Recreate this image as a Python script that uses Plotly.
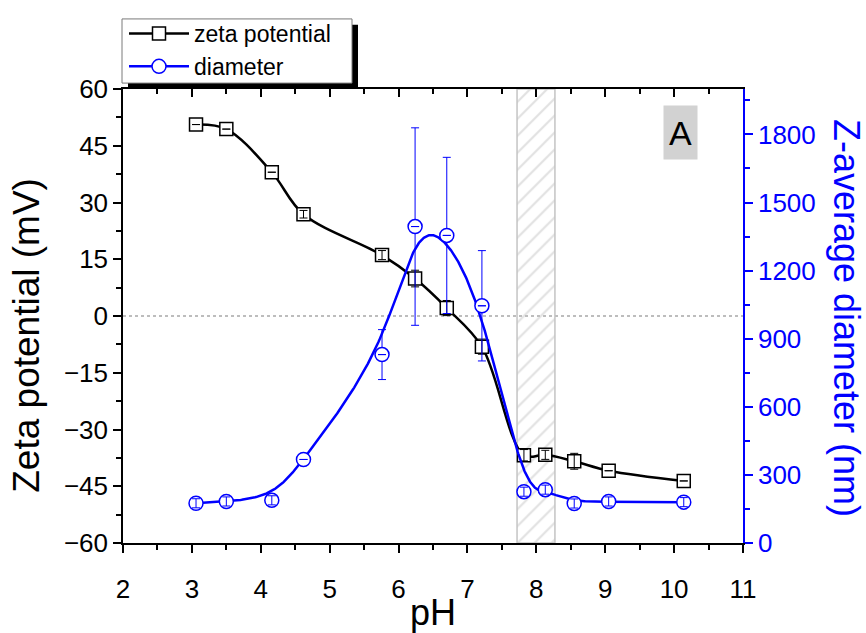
import numpy as np
import plotly.graph_objects as go

# ---------------- data ----------------
ph = [3.06, 3.50, 4.16, 4.62, 5.76, 6.24, 6.70, 7.21, 7.82, 8.13, 8.55, 9.05, 10.14]
zeta = [50.6, 49.4, 38.0, 26.9, 16.1, 9.9, 2.1, -8.1, -36.8, -36.7, -38.4, -40.9, -43.6]
zeta_err = [None, None, None, 1.0, 1.2, 2.2, 2.0, 2.0, 1.5, 1.2, 2.1, None, None]
diameter = [175, 183, 188, 368, 830, 1394, 1355, 1045, 226, 235, 174, 183, 180]
diameter_err = [20, 20, 20, None, 110, 435, 344, 243, 20, 20, 20, 20, 20]
shade_ph = [7.72, 8.27]
x_ticks = list(range(2, 12))
zeta_ticks = list(range(-60, 61, 15))
diam_ticks = list(range(0, 1801, 300))

# ---------------- layout helpers ----------------
W, H = 866, 633
L, R, T, B = 123, 743, 83, 543
FONT = "Arial, Liberation Sans, sans-serif"
BLUE = "#0000ff"


def px(xp):
    return (xp - L) / (R - L)


def py(yp):
    return (B - yp) / (B - T)


def bspline(xs, ys, degree=3, samples=600):
    """Clamped uniform B-spline using the data points as control points
    (the 'B-Spline' connect style of the original plot)."""
    c = np.column_stack([xs, ys]).astype(float)
    n = len(c)
    t = np.concatenate([[0.0] * degree, np.arange(n - degree + 1, dtype=float),
                        [float(n - degree)] * degree])
    out = []
    for u in np.linspace(0, n - degree, samples):
        k = int(np.searchsorted(t, u, side="right") - 1)
        k = min(max(k, degree), n - 1)
        d = [c[j + k - degree].copy() for j in range(degree + 1)]
        for r in range(1, degree + 1):
            for j in range(degree, r - 1, -1):
                den = t[j + 1 + k - r] - t[j + k - degree]
                a = 0.0 if den == 0 else (u - t[j + k - degree]) / den
                d[j] = (1 - a) * d[j - 1] + a * d[j]
        out.append(d[degree])
    out = np.array(out)
    return out[:, 0], out[:, 1]


small_diam_err = [e if (e is not None and e < 50) else None for e in diameter_err]
bs_x, bs_y = bspline(ph, diameter)

fig = go.Figure()

# hatched region
fig.add_trace(go.Scatter(
    x=[shade_ph[0], shade_ph[1], shade_ph[1], shade_ph[0], shade_ph[0]],
    y=[-60, -60, 60, 60, -60],
    mode="lines", fill="toself",
    fillcolor="rgba(0,0,0,0)",
    fillpattern=dict(shape="/", fgcolor="#c4c4c4", bgcolor="rgba(255,255,255,0)",
                     size=12, solidity=0.18),
    line=dict(color="#c4c4c4", width=1.5),
    showlegend=False, hoverinfo="skip",
))

# zeta potential
fig.add_trace(go.Scatter(
    x=ph, y=zeta, name="zeta potential",
    mode="lines+markers",
    line=dict(color="black", width=2.5, shape="spline", smoothing=1.0),
    marker=dict(symbol="square", size=13, color="white",
                line=dict(color="black", width=1.5)),
))
fig.add_trace(go.Scatter(
    x=ph, y=zeta, mode="markers", showlegend=False, hoverinfo="skip",
    marker=dict(size=1, color="rgba(0,0,0,0)"),
    error_y=dict(type="data", array=zeta_err, visible=True,
                 color="black", thickness=1, width=4),
))

# diameter: B-spline line, then markers with error bars
fig.add_trace(go.Scatter(
    x=bs_x, y=bs_y, yaxis="y2", mode="lines",
    line=dict(color=BLUE, width=2.5),
    showlegend=False, hoverinfo="skip",
))
fig.add_trace(go.Scatter(
    x=ph, y=diameter, name="diameter", yaxis="y2",
    mode="markers", showlegend=False,
    marker=dict(symbol="circle", size=14, color="white",
                line=dict(color=BLUE, width=1.5)),
    error_y=dict(type="data", array=diameter_err, visible=True,
                 color=BLUE, thickness=1, width=4),
))
fig.add_trace(go.Scatter(
    x=ph, y=diameter, yaxis="y2", mode="markers", showlegend=False, hoverinfo="skip",
    marker=dict(size=1, color="rgba(0,0,0,0)"),
    error_y=dict(type="data", array=small_diam_err, visible=True,
                 color=BLUE, thickness=1, width=4),
))
# legend entry for diameter
fig.add_trace(go.Scatter(
    x=[None], y=[None], yaxis="y2", name="diameter", mode="lines+markers",
    line=dict(color=BLUE, width=2.5),
    marker=dict(symbol="circle", size=14, color="white",
                line=dict(color=BLUE, width=1.5)),
))

# dummy trace for the top axis
fig.add_trace(go.Scatter(x=[None], y=[None], xaxis="x2", yaxis="y",
                         showlegend=False, hoverinfo="skip"))

TICK = 26
tickfont = dict(family=FONT, size=TICK, color="black")

fig.update_layout(
    width=W, height=H,
    margin=dict(l=L, r=W - R, t=T, b=H - B, pad=0),
    paper_bgcolor="white", plot_bgcolor="white",
    font=dict(family=FONT, color="black"),
    xaxis=dict(range=[2, 11], tickvals=x_ticks, ticks="outside", ticklen=8,
               tickwidth=1.5, tickcolor="black", showline=True, linecolor="black",
               linewidth=1.5, showgrid=False, zeroline=False, tickfont=tickfont,
               ticklabelstandoff=14,
               minor=dict(dtick=0.5, tick0=2, ticks="outside", ticklen=5,
                          tickwidth=1.5, tickcolor="black")),
    xaxis2=dict(range=[2, 11], overlaying="x", side="top", anchor="y",
                tickvals=x_ticks, ticks="inside", ticklen=8, tickwidth=1.5,
                tickcolor="black", showline=True, linecolor="black", linewidth=1.5,
                showgrid=False, zeroline=False, showticklabels=False,
                minor=dict(dtick=0.5, tick0=2, ticks="inside", ticklen=5,
                           tickwidth=1.5, tickcolor="black")),
    yaxis=dict(range=[-60, 60], tickvals=zeta_ticks, ticks="outside", ticklen=8,
               tickwidth=1.5, tickcolor="black", showline=True, linecolor="black",
               linewidth=1.5, showgrid=False, zeroline=False, tickfont=tickfont,
               minor=dict(dtick=7.5, tick0=0, ticks="outside", ticklen=5,
                          tickwidth=1.5, tickcolor="black")),
    yaxis2=dict(range=[0, 2000], overlaying="y", side="right", anchor="x",
                tickvals=diam_ticks, ticks="outside", ticklen=8, tickwidth=1.5,
                tickcolor=BLUE, showline=True, linecolor=BLUE, linewidth=1.5,
                showgrid=False, zeroline=False,
                tickfont=dict(family=FONT, size=TICK, color=BLUE),
                minor=dict(dtick=150, tick0=0, ticks="outside", ticklen=5,
                           tickwidth=1.5, tickcolor=BLUE)),
    legend=dict(x=px(124), y=py(5), xanchor="left", yanchor="top",
                bgcolor="rgba(0,0,0,0)", borderwidth=0,
                font=dict(family=FONT, size=23, color="black"),
                itemwidth=60, tracegroupgap=0),
    showlegend=True,
)

# zero line
fig.add_shape(type="line", xref="paper", yref="y", x0=0, x1=1, y0=0, y1=0,
              line=dict(color="#a8a8a8", width=1.5, dash="3px,3px"), layer="below")

# legend box with shadow
fig.add_shape(type="rect", xref="paper", yref="paper",
              x0=px(128), x1=px(358), y0=py(18), y1=py(82),
              fillcolor="black", line=dict(width=0), layer="above")
fig.add_shape(type="rect", xref="paper", yref="paper",
              x0=px(122), x1=px(352), y0=py(12), y1=py(77),
              fillcolor="white", line=dict(color="#7a7a7a", width=1), layer="above")

# axis titles
fig.add_annotation(text="Zeta potential (mV)", xref="paper", yref="paper",
                   x=px(27), y=py(333), xanchor="center", yanchor="middle",
                   textangle=-90, showarrow=False,
                   font=dict(family=FONT, size=37, color="black"))
fig.add_annotation(text="Z-average diameter (nm)", xref="paper", yref="paper",
                   x=px(846), y=py(315), xanchor="center", yanchor="middle",
                   textangle=90, showarrow=False,
                   font=dict(family=FONT, size=36, color=BLUE))
fig.add_annotation(text="pH", xref="paper", yref="paper",
                   x=px(433), y=py(613), xanchor="center", yanchor="middle",
                   showarrow=False,
                   font=dict(family=FONT, size=36, color="black"))

# panel label
fig.add_annotation(text="A", xref="paper", yref="paper",
                   x=px(680.5), y=py(127.5), xanchor="center", yanchor="middle",
                   showarrow=False, width=31, height=51, bgcolor="#d2d2d2",
                   font=dict(family=FONT, size=34, color="black"))

fig.write_html("out.html")
